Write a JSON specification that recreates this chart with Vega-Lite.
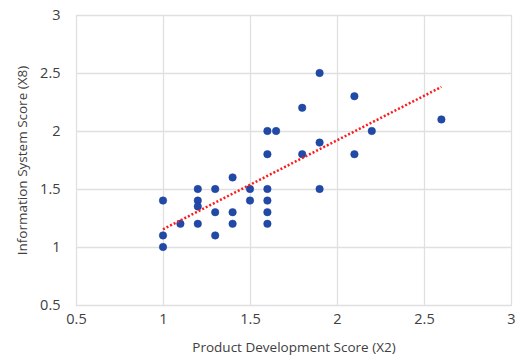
{
  "$schema": "https://vega.github.io/schema/vega-lite/v6.json",
  "width": 435,
  "height": 290,
  "autosize": {"type": "none"},
  "padding": {"left": 76, "top": 15, "right": 9, "bottom": 59},
  "background": "white",
  "config": {
    "font": "Open Sans",
    "view": {"stroke": "#c8c8c8", "strokeWidth": 1},
    "axis": {
      "grid": true,
      "gridColor": "#e0e0e0",
      "gridWidth": 1.3,
      "domain": false,
      "ticks": false,
      "labelFlush": false,
      "labelOverlap": false,
      "format": "~g",
      "labelFontSize": 14.5,
      "labelColor": "#404040",
      "titleFontSize": 13.5,
      "titleFontWeight": "normal",
      "titleColor": "#404040",
      "labelFont": "Open Sans",
      "titleFont": "Open Sans"
    }
  },
  "data": {
    "values": [
      {"x": 1, "y": 1.4}, {"x": 1, "y": 1.1}, {"x": 1, "y": 1.0},
      {"x": 1.1, "y": 1.2},
      {"x": 1.2, "y": 1.5}, {"x": 1.2, "y": 1.4}, {"x": 1.2, "y": 1.35}, {"x": 1.2, "y": 1.2},
      {"x": 1.3, "y": 1.5}, {"x": 1.3, "y": 1.3}, {"x": 1.3, "y": 1.1},
      {"x": 1.4, "y": 1.6}, {"x": 1.4, "y": 1.3}, {"x": 1.4, "y": 1.2},
      {"x": 1.5, "y": 1.5}, {"x": 1.5, "y": 1.4},
      {"x": 1.6, "y": 2.0}, {"x": 1.65, "y": 2.0}, {"x": 1.6, "y": 1.8}, {"x": 1.6, "y": 1.5}, {"x": 1.6, "y": 1.4}, {"x": 1.6, "y": 1.3}, {"x": 1.6, "y": 1.2},
      {"x": 1.8, "y": 2.2}, {"x": 1.8, "y": 1.8},
      {"x": 1.9, "y": 2.5}, {"x": 1.9, "y": 1.9}, {"x": 1.9, "y": 1.5},
      {"x": 2.1, "y": 2.3}, {"x": 2.1, "y": 1.8},
      {"x": 2.2, "y": 2.0},
      {"x": 2.6, "y": 2.1}
    ]
  },
  "layer": [
    {
      "mark": {"type": "point", "filled": true, "opacity": 1, "color": "#2049a8", "size": 56, "stroke": "#1a3f99", "strokeWidth": 0.5},
      "encoding": {
        "x": {"field": "x", "type": "quantitative", "scale": {"domain": [0.5, 3], "nice": false}, "axis": {"values": [0.5, 1, 1.5, 2, 2.5, 3], "title": "Product Development Score (X2)", "labelPadding": 7, "titlePadding": 15}},
        "y": {"field": "y", "type": "quantitative", "scale": {"domain": [0.5, 3], "nice": false}, "axis": {"values": [0.5, 1, 1.5, 2, 2.5, 3], "title": "Information System Score (X8)", "labelPadding": 16, "titlePadding": 10}}
      }
    },
    {
      "transform": [{"regression": "y", "on": "x"}],
      "mark": {"type": "line", "color": "#ff1a1a", "strokeWidth": 2.5, "strokeDash": [2, 2]},
      "encoding": {
        "x": {"field": "x", "type": "quantitative"},
        "y": {"field": "y", "type": "quantitative"}
      }
    }
  ]
}
